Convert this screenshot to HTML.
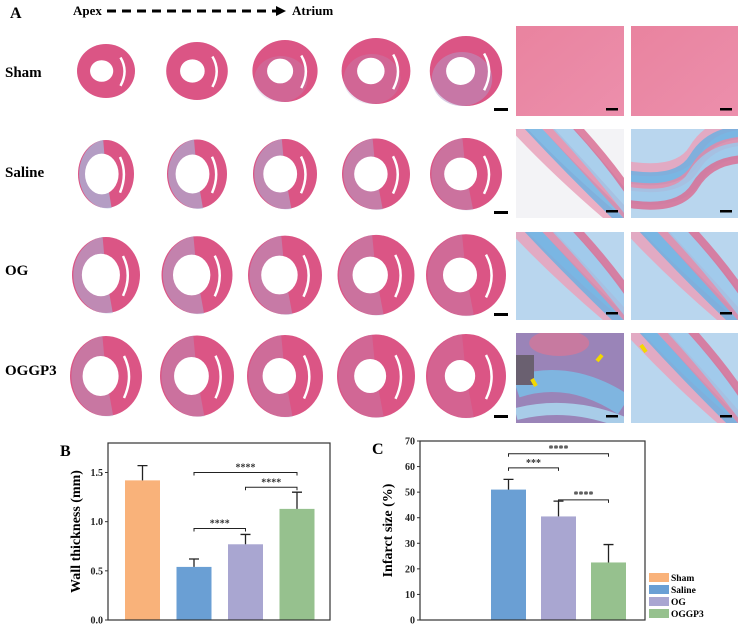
<!DOCTYPE html>
<html><head><meta charset="utf-8"><style>
body{margin:0;background:#fff;}
svg{display:block;font-family:"Liberation Serif",serif;}
</style></head><body>
<svg id="fig" width="740" height="625" viewBox="0 0 740 625">
<defs>
<linearGradient id="pinkz" x1="0" y1="0" x2="1" y2="1"><stop offset="0" stop-color="#e9839f"/><stop offset="1" stop-color="#ec8fac"/></linearGradient>
</defs>
<g id="panelA">
<text x="10" y="18" font-size="16" font-weight="bold">A</text>
<text x="73" y="15" font-size="13" font-weight="bold">Apex</text>
<line x1="107" y1="11" x2="278" y2="11" stroke="#000" stroke-width="3" stroke-dasharray="9,6"/>
<polygon points="276,6 286,11 276,16" fill="#000"/>
<text x="292" y="15" font-size="13" font-weight="bold">Atrium</text>
</g>
<g id="hearts"></g>
<g id="chartB"></g>
<g id="chartC"></g>
</svg>
<script>
const NS="http://www.w3.org/2000/svg";
function mk(p,t,a){const e=document.createElementNS(NS,t);for(const k in a)e.setAttribute(k,a[k]);p.appendChild(e);return e;}
const H=document.getElementById('hearts');
const rows=[
 {name:"Sham",ly:77,cy:71,rx0:29,rxs:1.8,ry0:27,rys:2,blue:0,cav:0.4,zy:26,zh:90,bar:108,type:0},
 {name:"Saline",ly:177,cy:174,rx0:28,rxs:2,ry0:34,rys:0.5,blue:0.75,cav:0.6,zy:129,zh:89,bar:211,type:1},
 {name:"OG",ly:275,cy:275,rx0:34,rxs:1.5,ry0:38,rys:0.7,blue:0.55,cav:0.56,zy:232,zh:88,bar:313,type:2},
 {name:"OGGP3",ly:375,cy:376,rx0:36,rxs:1,ry0:40,rys:0.5,blue:0.35,cav:0.5,zy:333,zh:90,bar:415,type:3}
];
const hx=[106,197,285,376,466];
rows.forEach((r,i)=>{
 const t=mk(H,'text',{x:5,y:r.ly,'font-size':15,'font-weight':'bold'});t.textContent=r.name;
 
 
 hx.forEach((x,j)=>{
  const g=mk(H,'g',{});
  
  
  const rx=r.rx0+j*r.rxs, ry=r.ry0+j*r.rys;
  mk(g,'ellipse',{cx:x,cy:r.cy,rx:rx,ry:ry,fill:'#db5585'});
  const bl=r.blue*(1-j*0.15);
  if(bl>0){mk(g,'path',{d:`M${x-rx*0.1},${r.cy-ry} A${rx},${ry} 0 0 0 ${x+rx*0.2},${r.cy+ry} L${x},${r.cy} Z`,fill:'#a7b6da',opacity:bl});}
  if(i==0&&j>=2){mk(g,'ellipse',{cx:x-4,cy:r.cy+8,rx:rx-6,ry:ry-8,fill:'#b49ac8',opacity:j==4?0.5:0.25});}
  const cav=r.cav*(i==0?1:(1-j*0.06));
  mk(g,'ellipse',{cx:x-rx*0.15,cy:r.cy,rx:rx*cav,ry:ry*cav,fill:'#fff'});
  mk(g,'path',{d:`M${x+rx*0.5},${r.cy-ry*0.5} Q${x+rx*0.78},${r.cy} ${x+rx*0.5},${r.cy+ry*0.55}`,stroke:'#fff','stroke-width':2.5,fill:'none'});
 });
 mk(H,'rect',{x:494,y:r.bar,width:14,height:3,fill:'#000'});
 [[516,108],[631,107]].forEach((p,k)=>{
  const zg=mk(H,'g',{});
  
  
  const cid='c'+i+k;
  const cp=mk(zg,'clipPath',{id:cid});mk(cp,'rect',{x:p[0],y:r.zy,width:p[1],height:r.zh});
  const cg=mk(zg,'g',{'clip-path':`url(#${cid})`});
  const X=p[0],Y=r.zy,W=p[1],Hh=r.zh;
  if(r.type==0){mk(cg,'rect',{x:X,y:Y,width:W,height:Hh,fill:'url(#pinkz)'});}
  else if(r.type==3&&k==0){
   mk(cg,'rect',{x:X,y:Y,width:W,height:Hh,fill:'#9a84b8'});
   mk(cg,'path',{d:`M${X},${Y+Hh*0.6} Q${X+W*0.5},${Y+Hh*0.4} ${X+W},${Y+Hh*0.8}`,stroke:'#7fb5e0','stroke-width':22,fill:'none'});
   mk(cg,'path',{d:`M${X},${Y+Hh*0.9} Q${X+W*0.5},${Y+Hh*0.75} ${X+W},${Y+Hh}`,stroke:'#a8cce8','stroke-width':12,fill:'none'});
   mk(cg,'ellipse',{cx:X+W*0.4,cy:Y+10,rx:30,ry:13,fill:'#c77aa0'});
   mk(cg,'rect',{x:X,y:Y+22,width:18,height:30,fill:'#6a6070'});
   mk(cg,'path',{d:`M${X+86},${Y+22} l-5,6 M${X+16},${Y+46} l4,7`,stroke:'#f2d800','stroke-width':4});
  } else {
   mk(cg,'rect',{x:X,y:Y,width:W,height:Hh,fill:k==0&&r.type==1?'#f3f3f6':'#b9d6ee'});
   const bands=[['#e9a2bb',13],['#6fb0e0',13],['#e08aa8',9],['#9cc8ea',16],['#d97095',8]];
   bands.forEach((b,m)=>{
    const off=m*15-10;
    let d;
    if(k==1&&r.type==1) d=`M${X-5},${Y+Hh*0.5+off*0.6} Q${X+W*0.45},${Y+Hh*0.6+off*0.6} ${X+W*0.6},${Y+Hh*0.3+off*0.6} T${X+W+10},${Y+off*0.6}`;
    else d=`M${X+8+off},${Y-5} Q${X+W*0.5+off},${Y+Hh*0.5} ${X+W+off*0.5},${Y+Hh+5}`;
    mk(cg,'path',{d:d,stroke:b[0],'stroke-width':b[1],fill:'none',opacity:0.85});
   });
   if(r.type==3){mk(cg,'path',{d:`M${X+10},${Y+12} l5,7`,stroke:'#f2d800','stroke-width':4});}
  }
  mk(zg,'rect',{x:X+W-18,y:Y+Hh-8,width:12,height:2.5,fill:'#000'});
 });
});

// ---- Chart B data ----
const groupsB=["Sham","Saline","OG","OGGP3"];
const wallMean=[1.42,0.54,0.77,1.13];
const wallErr=[0.15,0.08,0.10,0.17];
const wallTicks=[0,0.5,1.0,1.5];
// ---- Chart C data ----
const groupsC=["Sham","Saline","OG","OGGP3"];
const infMean=[0,51,40.5,22.5];
const infErr=[0,4,6,7];
const infTicks=[0,10,20,30,40,50,60,70];
const colors=["#f9b27a","#6a9fd4","#a9a6d1","#96c18e"];

function drawChart(g,o){
 const y=v=>o.y0-(v-0)/(o.vmax)*(o.y0-o.y1);
 const x=i=>o.x0+o.off+i*o.step;
 o.means.forEach((m,i)=>{
  if(m<=0)return;
  const b=mk(g,'rect',{x:x(i),y:y(m),width:o.bw,height:o.y0-y(m),fill:colors[i]});
  
  
  const cx=x(i)+o.bw/2;
  const e=mk(g,'path',{d:`M${cx},${y(m)} V${y(m+o.errs[i])} M${cx-5},${y(m+o.errs[i])} H${cx+5}`,stroke:'#222','stroke-width':1.3,fill:'none'});
  
  
 });
 const f=mk(g,'rect',{x:o.x0,y:o.y1,width:o.x2-o.x0,height:o.y0-o.y1,fill:'none',stroke:'#333','stroke-width':1.2});
 
 
 o.ticks.forEach(t=>{
  mk(g,'line',{x1:o.x0-3,x2:o.x0,y1:y(t),y2:y(t),stroke:'#333'});
  const l=mk(g,'text',{x:o.x0-5,y:y(t)+3.5,'font-size':10,'font-weight':'bold','text-anchor':'end',fill:'#222'});
  l.textContent=o.fmt(t);
  
  
 });
 o.sig.forEach(s=>{
  const xa=x(s[0])+o.bw/2,xb=x(s[1])+o.bw/2,yy=y(s[2]);
  const p=mk(g,'path',{d:`M${xa},${yy+3} V${yy} H${xb} V${yy+3}`,stroke:'#222','stroke-width':1,fill:'none'});
  
  
  const tt=mk(g,'text',{x:(xa+xb)/2,y:yy-2,'font-size':10,'font-weight':'bold','text-anchor':'middle',fill:'#333'});
  tt.textContent=s[3];
  
  
 });
 const yl=mk(g,'text',{transform:`translate(${o.x0-28},${(o.y0+o.y1)/2}) rotate(-90)`,'font-size':14,'font-weight':'bold','text-anchor':'middle'});
 yl.textContent=o.ylabel;
 
 
 const pl=mk(g,'text',{x:o.x0-48,y:o.y1+13,'font-size':16,'font-weight':'bold'});
 pl.textContent=o.panel;
 
 
}
drawChart(document.getElementById('chartB'),{x0:108,x2:330,y0:620,y1:443,vmax:1.8,off:17,step:51.5,bw:35,
 means:wallMean,errs:wallErr,groups:groupsB,ticks:wallTicks,fmt:t=>t.toFixed(1),
 sig:[[1,3,1.5,"****"],[2,3,1.35,"****"],[1,2,0.93,"****"]],ylabel:"Wall thickness (mm)",panel:"B"});
drawChart(document.getElementById('chartC'),{x0:420,x2:645,y0:620,y1:441,vmax:70,off:21,step:50,bw:35,
 means:infMean,errs:infErr,groups:groupsC,ticks:infTicks,fmt:t=>String(t),
 sig:[[1,3,65,"****"],[1,2,59.5,"***"],[2,3,47,"****"]],ylabel:"Infarct size (%)",panel:"C"});
const L=mk(document.getElementById('fig'),'g',{});


groupsB.forEach((n,i)=>{
 const yy=573+i*12;
 mk(L,'rect',{x:649,y:yy,width:20,height:9,fill:colors[i]});
 const t=mk(L,'text',{x:671,y:yy+8,'font-size':9.5,'font-weight':'bold'});
 t.textContent=n;
 
 
});
</script>
</body></html>
